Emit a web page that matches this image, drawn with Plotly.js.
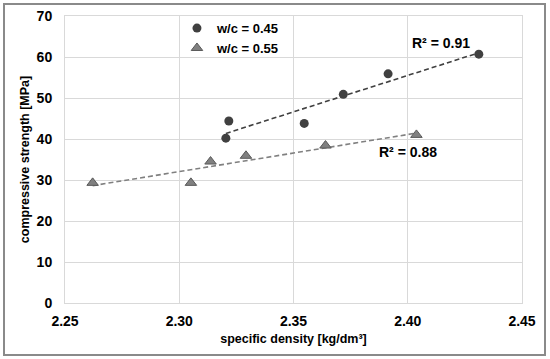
<!DOCTYPE html>
<html><head><meta charset="utf-8">
<script src="https://cdn.plot.ly/plotly-3.0.1.min.js"></script>
<style>
html,body{margin:0;padding:0;background:#fff;}
#wrap{position:relative;width:550px;height:359px;}
#chart{width:550px;height:359px;}
#frame{position:absolute;left:3px;top:3px;width:539px;height:349px;border:2px solid #8a8a8a;pointer-events:none;}
</style></head>
<body>
<div id="wrap"><div id="chart"></div><div id="frame"></div></div>
<script>
const xA = [2.3204, 2.3217, 2.3547, 2.3718, 2.3914, 2.4311];
const yA = [40.2, 44.4, 43.8, 50.9, 55.9, 60.7];
const xB = [2.2621, 2.3051, 2.3137, 2.3292, 2.3640, 2.4038];
const yB = [29.3, 29.3, 34.5, 35.9, 38.4, 41.0];
const nameA = 'w/c = 0.45';
const nameB = 'w/c = 0.55';
const r2A = 'R² = 0.91';
const r2B = 'R² = 0.88';
const xTicks = [2.25, 2.30, 2.35, 2.40, 2.45];
const yTicks = [0, 10, 20, 30, 40, 50, 60, 70];

function fit(xs, ys){
  const n = xs.length;
  const mx = xs.reduce((a,b)=>a+b,0)/n, my = ys.reduce((a,b)=>a+b,0)/n;
  let sxy=0,sxx=0;
  for(let i=0;i<n;i++){sxy+=(xs[i]-mx)*(ys[i]-my);sxx+=(xs[i]-mx)**2;}
  const b = sxy/sxx, a = my-b*mx;
  const x0 = Math.min(...xs), x1 = Math.max(...xs);
  return {x:[x0,x1], y:[a+b*x0, a+b*x1]};
}
const fA = fit(xA,yA), fB = fit(xB,yB);
const F = 'Liberation Sans, Arial, sans-serif';

const data = [
  {x:fA.x, y:fA.y, mode:'lines', line:{color:'#404040', width:1.6, dash:'5px,3px'}, showlegend:false, hoverinfo:'skip'},
  {x:fB.x, y:fB.y, mode:'lines', line:{color:'#808080', width:1.6, dash:'5px,3px'}, showlegend:false, hoverinfo:'skip'},
  {x:xA, y:yA, name:nameA, mode:'markers', marker:{symbol:'circle', size:9, color:'#404040'}},
  {x:xB, y:yB, name:nameB, mode:'markers', marker:{symbol:'triangle-up', size:10, color:'#808080', line:{color:'#595959', width:1}}}
];
const layout = {
  width:550, height:359,
  margin:{l:65, r:28, t:16, b:56},
  paper_bgcolor:'#fff', plot_bgcolor:'#fff',
  font:{family:F, color:'#000'},
  showlegend:true,
  legend:{x:0.245, y:1.01, xanchor:'left', yanchor:'top', bgcolor:'rgba(0,0,0,0)',
    font:{family:F, size:13, color:'#000', weight:'bold'}, tracegroupgap:0, itemwidth:30},
  xaxis:{range:[2.25,2.45], tickvals:xTicks, ticktext:xTicks.map(v=>v.toFixed(2)),
    showgrid:true, gridcolor:'#d9d9d9', gridwidth:1, zeroline:false,
    showline:true, linecolor:'#d9d9d9', mirror:true, ticks:'outside', ticklen:5, tickcolor:'rgba(0,0,0,0)',
    tickfont:{family:F, size:14, color:'#000', weight:'bold'},
    title:{text:'specific density [kg/dm³]', font:{family:F, size:12.5, color:'#000', weight:'bold'}, standoff:6}},
  yaxis:{range:[0,70], tickvals:yTicks,
    showgrid:true, gridcolor:'#d9d9d9', gridwidth:1, zeroline:false,
    showline:true, linecolor:'#d9d9d9', mirror:true, ticks:'outside', ticklen:9, tickcolor:'rgba(0,0,0,0)',
    tickfont:{family:F, size:14, color:'#000', weight:'bold'},
    title:{text:'compressive strength [MPa]', font:{family:F, size:12.5, color:'#000', weight:'bold'}, standoff:4}},
  annotations:[
    {x:2.4311, y:60.7, xref:'x', yref:'y', text:r2A, showarrow:false, xanchor:'right', yanchor:'bottom', xshift:-7, yshift:1,
     font:{family:F, size:14, color:'#000', weight:'bold'}},
    {x:2.4038, y:41.0, xref:'x', yref:'y', text:r2B, showarrow:false, xanchor:'center', yanchor:'top', xshift:-8, yshift:-7,
     font:{family:F, size:14, color:'#000', weight:'bold'}}
  ]
};
Plotly.newPlot('chart', data, layout, {displayModeBar:false, staticPlot:true});
</script>
</body></html>
